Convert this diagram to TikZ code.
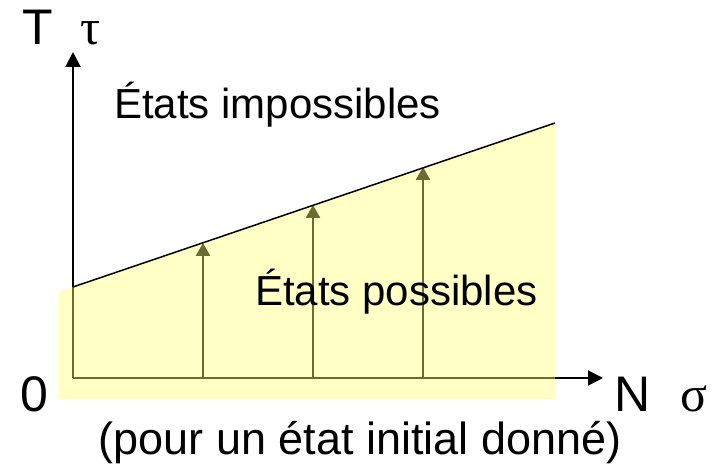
\documentclass[tikz,border=0pt]{standalone}
\usepackage{fontspec}
\setmainfont{Liberation Sans}
\newfontfamily\greekfont{Liberation Serif}
\usetikzlibrary{arrows.meta}
\definecolor{fillyellow}{RGB}{255,255,120}
\tikzset{
  axisline/.style={line width=2pt, -{Triangle[length=15pt,width=15pt]}},
  growarrow/.style={line width=2.6pt, -{Triangle[length=13pt,width=14pt]}},
  bigtxt/.style={inner sep=0pt, font=\fontsize{50}{50}\selectfont},
  midtxt/.style={inner sep=0pt, font=\fontsize{42}{42}\selectfont},
  notetxt/.style={inner sep=0pt, font=\fontsize{45}{45}\selectfont},
  greektxt/.style={inner sep=0pt, font=\greekfont\fontsize{50}{50}\selectfont}
}
\begin{document}
\begin{tikzpicture}[x=1pt,y=1pt]
\useasboundingbox (0,0) rectangle (718,468);
% coordinates
\coordinate (O) at (73,90);
\coordinate (ytip) at (73,416);
\coordinate (xtip) at (603,90);
\coordinate (L0) at (73,181);
\coordinate (L1) at (555,345);
\coordinate (b1) at (203,90);
\coordinate (t1) at (203,225);
\coordinate (b2) at (313,90);
\coordinate (t2) at (313,263);
\coordinate (b3) at (423,90);
\coordinate (t3) at (423,301);
% axes and arrows (under the translucent fill)
\draw[axisline] (O) -- (ytip);
\draw[axisline] (O) -- (xtip);
\draw[growarrow] (b1) -- (t1);
\draw[growarrow] (b2) -- (t2);
\draw[growarrow] (b3) -- (t3);
% translucent region of possible states
\fill[fillyellow, fill opacity=0.42] (58,176) -- (L1) -- (555,69) -- (58,69) -- cycle;
% boundary line
\draw[line width=1.5pt] (L0) -- (L1);
% labels
\node[bigtxt, anchor=base west] (lT) at (22,423) {T};
\node[greektxt, anchor=base west] (ltau) at (80,423) {τ};
\node[midtxt, anchor=base west] (limp) at (114,349) {États impossibles};
\node[midtxt, anchor=base west] (lpos) at (255,162) {États possibles};
\node[bigtxt, anchor=base west] (l0) at (20,56) {0};
\node[bigtxt, anchor=base west] (lN) at (614,56) {N};
\node[greektxt, anchor=base west] (lsig) at (680,56) {σ};
\node[notetxt, anchor=base] (lnote) at (360,13) {(pour un état initial donné)};
\end{tikzpicture}
\end{document}
